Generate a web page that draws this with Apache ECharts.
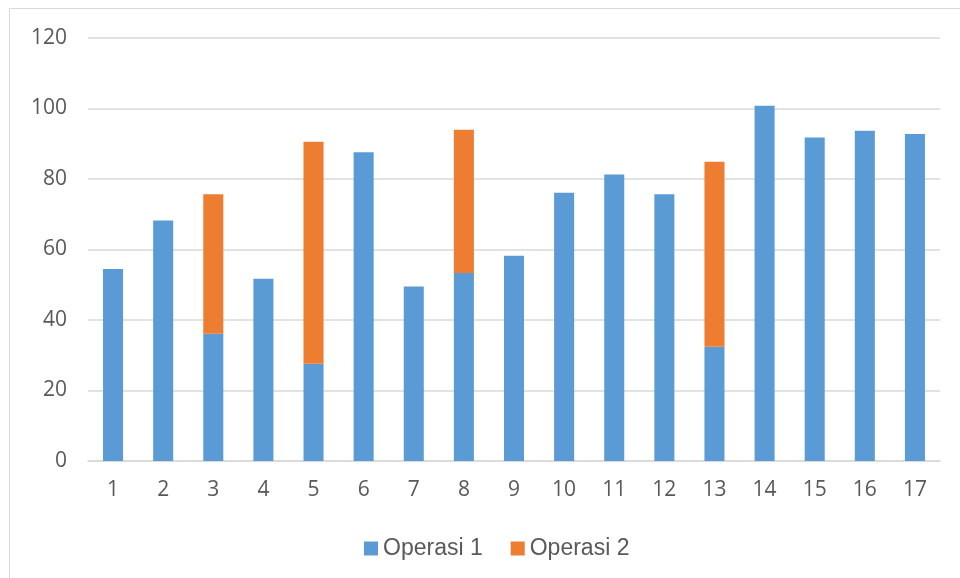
<!DOCTYPE html>
<html>
<head>
<meta charset="utf-8">
<script src="https://cdn.jsdelivr.net/npm/echarts@6/dist/echarts.min.js"></script>
<style>
  html, body { margin: 0; padding: 0; background: #ffffff; }
  #chart { width: 960px; height: 578px; }
</style>
</head>
<body>
<div id="chart"></div>
<script>
// Category labels along the x axis
const categories = ['1','2','3','4','5','6','7','8','9','10','11','12','13','14','15','16','17'];

// Stacked segment values per category
const operasi1 = [54.5, 68.2, 36.1, 51.7, 27.6, 87.6, 49.5, 53.3, 58.2, 76.1, 81.3, 75.7, 32.4, 100.8, 91.8, 93.7, 92.8];
const operasi2 = [null, null, 39.6, null, 63.0, null, null, 40.7, null, null, null, null, 52.5, null, null, null, null];

// Value axis range
const yMin = 0;
const yMax = 120;
const yStep = 20;

const labelColor = '#595959';
const gridColor = '#d9d9d9';

const chart = echarts.init(document.getElementById('chart'), null, { renderer: 'canvas' });

chart.setOption({
  animation: false,
  backgroundColor: '#ffffff',
  graphic: [{
    type: 'rect',
    shape: { x: 9.5, y: 8.5, width: 1000, height: 1000 },
    style: { fill: 'none', stroke: '#d9d9d9', lineWidth: 1 },
    silent: true,
    z: -10
  }],
  grid: { left: 88, right: 20, top: 38, bottom: 117 },
  legend: {
    data: ['Operasi 1', 'Operasi 2'],
    left: 359,
    top: 532,
    icon: 'rect',
    itemWidth: 14,
    itemHeight: 14,
    itemGap: 28,
    textStyle: {
      fontFamily: 'Liberation Sans, Arial, sans-serif',
      fontSize: 23,
      color: labelColor
    }
  },
  xAxis: {
    type: 'category',
    data: categories,
    axisLine: { show: true, lineStyle: { color: gridColor, width: 1.5 } },
    axisTick: { show: false },
    axisLabel: {
      color: labelColor,
      fontFamily: 'Open Sans, sans-serif',
      fontSize: 21,
      margin: 19
    }
  },
  yAxis: {
    type: 'value',
    min: yMin,
    max: yMax,
    interval: yStep,
    axisLine: { show: false },
    axisTick: { show: false },
    splitLine: { lineStyle: { color: gridColor, width: 1.5 } },
    axisLabel: {
      color: labelColor,
      fontFamily: 'Open Sans, sans-serif',
      fontSize: 21,
      margin: 21
    }
  },
  series: [
    {
      name: 'Operasi 1',
      type: 'bar',
      stack: 'total',
      barWidth: '40%',
      itemStyle: { color: '#5B9BD5' },
      data: operasi1
    },
    {
      name: 'Operasi 2',
      type: 'bar',
      stack: 'total',
      barWidth: '40%',
      itemStyle: { color: '#ED7D31' },
      data: operasi2
    }
  ]
});
</script>
</body>
</html>
